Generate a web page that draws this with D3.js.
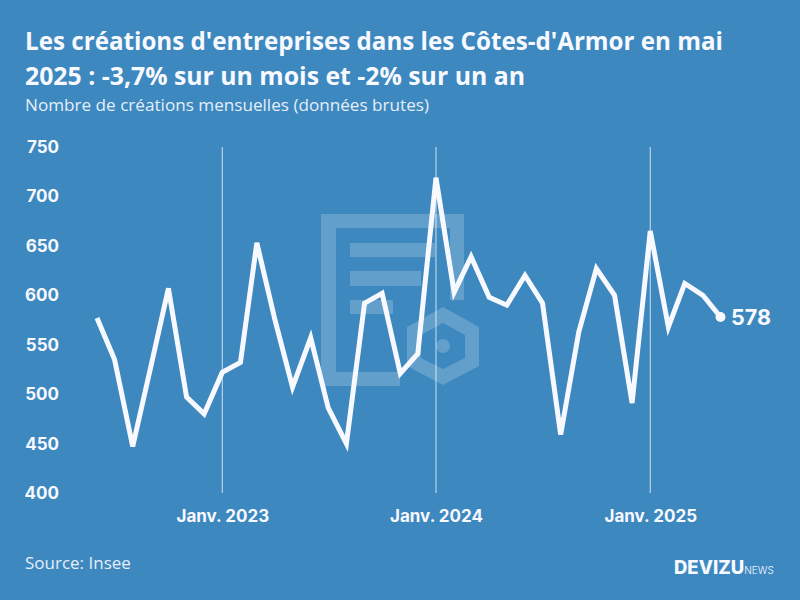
<!DOCTYPE html>
<html>
<head>
<meta charset="utf-8">
<script src="https://cdn.jsdelivr.net/npm/d3@7"></script>
<style>
html, body { margin: 0; padding: 0; background: #3c88bf; }
svg { display: block; }
text { fill: #f8f9ff; }
.title { font: 700 24.6px "Open Sans", sans-serif; }
.sub { font: 400 17px "Open Sans", sans-serif; fill: #e6eef8; }
.source { font: 400 17px "Open Sans", sans-serif; fill: #e6eef8; }
.axis text { font: 700 17px Inter, sans-serif; fill: #f8f9ff; }
.axis line, .axis path { display: none; }
</style>
</head>
<body>
<svg id="chart" width="800" height="600"></svg>
<script>
// data
var months = [
    "2022-06", "2022-07", "2022-08", "2022-09", "2022-10", "2022-11", "2022-12",
    "2023-01", "2023-02", "2023-03", "2023-04", "2023-05", "2023-06", "2023-07",
    "2023-08", "2023-09", "2023-10", "2023-11", "2023-12", "2024-01", "2024-02",
    "2024-03", "2024-04", "2024-05", "2024-06", "2024-07", "2024-08", "2024-09",
    "2024-10", "2024-11", "2024-12", "2025-01", "2025-02", "2025-03", "2025-04",
    "2025-05"
];
var creations = [
    577, 535, 447, 528, 607, 497, 480,
    522, 532, 653, 575, 507, 557, 486,
    450, 592, 602, 521, 541, 719, 603,
    639, 598, 590, 620, 592, 459, 563,
    627, 600, 491, 665, 568, 612, 600,
    578
];
var yTicks = [400, 450, 500, 550, 600, 650, 700, 750];
var xTicks = ["2023-01", "2024-01", "2025-01"];
var xTickLabels = ["Janv. 2023", "Janv. 2024", "Janv. 2025"];

var parseMonth = d3.utcParse("%Y-%m");
var svg = d3.select("#chart");

var x = d3.scaleUtc()
    .domain([parseMonth(months[0]), parseMonth(months[months.length - 1])])
    .range([97, 720.5]);
var y = d3.scaleLinear().domain([400, 750]).range([493, 147]);

//----------------------------------------
// watermark logo
//----------------------------------------
var logo = svg.append("g").attr("fill", "#fff").attr("fill-opacity", 0.2);
logo.append("path")
    .attr("fill-rule", "evenodd")
    .attr("d", "M321 214H464V300H450V228H336V372H400V386H321Z");
logo.append("rect").attr("x", 350).attr("y", 243).attr("width", 85).attr("height", 14);
logo.append("rect").attr("x", 350).attr("y", 271).attr("width", 71).attr("height", 15);
logo.append("rect").attr("x", 350).attr("y", 300).attr("width", 43).attr("height", 14);
logo.append("path")
    .attr("fill-rule", "evenodd")
    .attr("d", "M443 307L479 327V366L443 385L407 366V327Z M443 323L465 335V358L443 369L421 358V335Z");
logo.append("circle").attr("cx", 443).attr("cy", 346).attr("r", 7);

//----------------------------------------
// year lines
//----------------------------------------
svg.append("g").selectAll("line")
    .data(xTicks)
    .join("line")
    .attr("x1", function (d) { return x(parseMonth(d)); })
    .attr("x2", function (d) { return x(parseMonth(d)); })
    .attr("y1", y(750))
    .attr("y2", y(400))
    .attr("stroke", "#fff")
    .attr("stroke-opacity", 0.75)
    .attr("stroke-width", 1);

//----------------------------------------
// axes
//----------------------------------------
svg.append("g")
    .attr("class", "axis")
    .attr("transform", "translate(67,0)")
    .call(d3.axisLeft(y).tickValues(yTicks).tickSize(0).tickPadding(8));

svg.append("g")
    .attr("class", "axis")
    .attr("transform", "translate(0,510)")
    .call(d3.axisBottom(x)
        .tickValues(xTicks.map(parseMonth))
        .tickFormat(function (d, i) { return xTickLabels[i]; })
        .tickSize(0).tickPadding(0));

//----------------------------------------
// line
//----------------------------------------
var line = d3.line()
    .x(function (d, i) { return x(parseMonth(months[i])); })
    .y(function (d) { return y(d); });

svg.append("path")
    .datum(creations)
    .attr("d", line)
    .attr("fill", "none")
    .attr("stroke", "#f8f9ff")
    .attr("stroke-width", 5)
    .attr("stroke-linejoin", "miter");

var lastIdx = creations.length - 1;
svg.append("circle")
    .attr("cx", x(parseMonth(months[lastIdx])))
    .attr("cy", y(creations[lastIdx]))
    .attr("r", 5)
    .attr("fill", "#f8f9ff");

svg.append("text")
    .attr("x", 731)
    .attr("y", y(creations[lastIdx]) + 7.5)
    .style("font", "700 21.5px Inter, sans-serif")
    .text(creations[lastIdx]);

//----------------------------------------
// titles and footer
//----------------------------------------
svg.append("text").attr("class", "title").attr("x", 25).attr("y", 50)
    .attr("textLength", 698).attr("lengthAdjust", "spacingAndGlyphs")
    .text("Les créations d'entreprises dans les Côtes-d'Armor en mai");
svg.append("text").attr("class", "title").attr("x", 25).attr("y", 85)
    .attr("textLength", 500).attr("lengthAdjust", "spacingAndGlyphs")
    .text("2025 : -3,7% sur un mois et -2% sur un an");
svg.append("text").attr("class", "sub").attr("x", 25).attr("y", 111)
    .attr("textLength", 404).attr("lengthAdjust", "spacingAndGlyphs")
    .text("Nombre de créations mensuelles (données brutes)");
svg.append("text").attr("class", "source").attr("x", 25).attr("y", 569)
    .text("Source: Insee");

var brand = svg.append("text").attr("x", 674).attr("y", 574);
brand.append("tspan").style("font", "800 18.5px Inter, sans-serif").text("DEVIZU");
brand.append("tspan").style("font", "300 10px Inter, sans-serif").attr("dx", 0).text("NEWS");
</script>
</body>
</html>
